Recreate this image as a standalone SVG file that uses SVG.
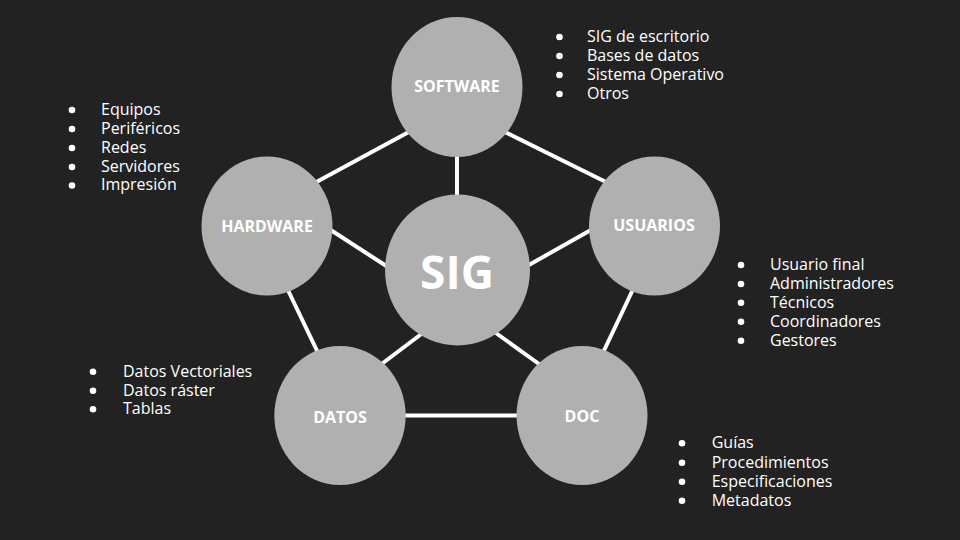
<svg xmlns="http://www.w3.org/2000/svg" width="960" height="540" viewBox="0 0 960 540">
  <defs>
    <style>
      .node { fill: #b0b0b0; }
      .label { font-family: "Open Sans", "Liberation Sans", sans-serif; font-weight: 700; font-size: 16px; fill: #ffffff; text-anchor: middle; }
      .core { font-size: 46px; }
      .link { stroke: #ffffff; stroke-width: 4; fill: none; }
      .item { font-family: "Open Sans", "Liberation Sans", sans-serif; font-size: 16px; fill: #ffffff; }
      .dot { fill: #ffffff; }
    </style>
  </defs>

  <rect width="960" height="540" fill="#222222"/>

  <!-- connectors -->
  <g id="connectors">
    <line class="link" x1="418" y1="127" x2="309" y2="186"/>
    <line class="link" x1="496" y1="127.5" x2="615" y2="186.5"/>
    <line class="link" x1="457" y1="150" x2="457" y2="200"/>
    <line class="link" x1="323" y1="225" x2="394" y2="271"/>
    <line class="link" x1="598" y1="226" x2="520" y2="270"/>
    <line class="link" x1="285" y1="284" x2="321" y2="359"/>
    <line class="link" x1="636" y1="283" x2="600" y2="359"/>
    <line class="link" x1="375" y1="369" x2="428" y2="329"/>
    <line class="link" x1="489" y1="328" x2="546" y2="369"/>
    <line class="link" x1="400" y1="415.5" x2="522" y2="415.5"/>
  </g>

  <!-- nodes -->
  <g id="software">
    <ellipse class="node" cx="457" cy="87" rx="65.5" ry="70"/>
    <text class="label" x="457" y="92">SOFTWARE</text>
  </g>
  <g id="hardware">
    <ellipse class="node" cx="267" cy="226" rx="65.5" ry="69.5"/>
    <text class="label" x="267" y="231.5">HARDWARE</text>
  </g>
  <g id="usuarios">
    <ellipse class="node" cx="654.5" cy="226" rx="65.5" ry="69.5"/>
    <text class="label" x="654" y="230.5">USUARIOS</text>
  </g>
  <g id="datos">
    <ellipse class="node" cx="340" cy="415.5" rx="65.7" ry="69.5"/>
    <text class="label" x="340" y="423">DATOS</text>
  </g>
  <g id="doc">
    <ellipse class="node" cx="582" cy="415.5" rx="65.5" ry="69.5"/>
    <text class="label" x="582" y="421.5">DOC</text>
  </g>
  <g id="sig">
    <ellipse class="node" cx="457.5" cy="270" rx="72.5" ry="75.5"/>
    <text class="label core" x="457" y="289">SIG</text>
  </g>

  <!-- bullet lists -->
  <g id="list-software">
    <circle class="dot" cx="559.5" cy="37" r="3.3"/>
    <circle class="dot" cx="559.5" cy="56" r="3.3"/>
    <circle class="dot" cx="559.5" cy="75" r="3.3"/>
    <circle class="dot" cx="559.5" cy="94" r="3.3"/>
    <text class="item" y="42">
      <tspan x="587">SIG de escritorio</tspan>
      <tspan x="587" dy="19">Bases de datos</tspan>
      <tspan x="587" dy="19">Sistema Operativo</tspan>
      <tspan x="587" dy="19">Otros</tspan>
    </text>
  </g>
  <g id="list-hardware">
    <circle class="dot" cx="72" cy="110" r="3.3"/>
    <circle class="dot" cx="72" cy="129" r="3.3"/>
    <circle class="dot" cx="72" cy="148" r="3.3"/>
    <circle class="dot" cx="72" cy="167" r="3.3"/>
    <circle class="dot" cx="72" cy="185.5" r="3.3"/>
    <text class="item" y="115">
      <tspan x="101">Equipos</tspan>
      <tspan x="101" dy="19">Periféricos</tspan>
      <tspan x="101" dy="18.7">Redes</tspan>
      <tspan x="101" dy="18.8">Servidores</tspan>
      <tspan x="101" dy="18.8">Impresión</tspan>
    </text>
  </g>
  <g id="list-usuarios">
    <circle class="dot" cx="741" cy="265" r="3.3"/>
    <circle class="dot" cx="741" cy="284" r="3.3"/>
    <circle class="dot" cx="741" cy="302.7" r="3.3"/>
    <circle class="dot" cx="741" cy="321.7" r="3.3"/>
    <circle class="dot" cx="741" cy="340.7" r="3.3"/>
    <text class="item" y="270">
      <tspan x="770">Usuario final</tspan>
      <tspan x="770" dy="19">Administradores</tspan>
      <tspan x="770" dy="18.7">Técnicos</tspan>
      <tspan x="770" dy="19">Coordinadores</tspan>
      <tspan x="770" dy="19">Gestores</tspan>
    </text>
  </g>
  <g id="list-datos">
    <circle class="dot" cx="93" cy="371.7" r="3.3"/>
    <circle class="dot" cx="93" cy="390.7" r="3.3"/>
    <circle class="dot" cx="93" cy="409.3" r="3.3"/>
    <text class="item" y="376.7">
      <tspan x="123">Datos Vectoriales</tspan>
      <tspan x="123" dy="19">Datos ráster</tspan>
      <tspan x="123" dy="18.6">Tablas</tspan>
    </text>
  </g>
  <g id="list-doc">
    <circle class="dot" cx="682" cy="443.3" r="3.3"/>
    <circle class="dot" cx="682" cy="462.7" r="3.3"/>
    <circle class="dot" cx="682" cy="481.7" r="3.3"/>
    <circle class="dot" cx="682" cy="500.7" r="3.3"/>
    <text class="item" y="448.3">
      <tspan x="711.7">Guías</tspan>
      <tspan x="711.7" dy="19.4">Procedimientos</tspan>
      <tspan x="711.7" dy="19">Especificaciones</tspan>
      <tspan x="711.7" dy="19">Metadatos</tspan>
    </text>
  </g>
</svg>
